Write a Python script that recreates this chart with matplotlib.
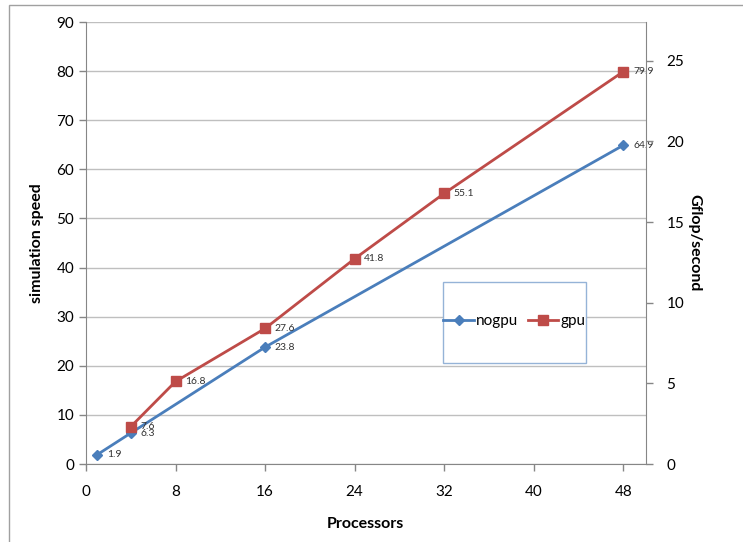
import matplotlib
matplotlib.use("Agg")
import matplotlib.pyplot as plt
from matplotlib.patches import Rectangle

BLUE = "#4A7EBB"
RED = "#BE4B48"
GRID = "#BFBFBF"
SPINE = "#868686"

plt.rcParams.update({
    "font.family": ["Lato", "DejaVu Sans"],
    "font.size": 11,
})

nogpu_x = [1, 4, 16, 48]
nogpu_y = [1.9, 6.3, 23.8, 64.9]
gpu_x = [4, 8, 16, 24, 32, 48]
gpu_y = [7.6, 16.8, 27.6, 41.8, 55.1, 79.9]
x_ticks = [0, 8, 16, 24, 32, 40, 48]
left_ticks = [0, 10, 20, 30, 40, 50, 60, 70, 80, 90]
right_ticks = [0, 5, 10, 15, 20, 25]

fig = plt.figure(figsize=(7.43, 5.42), dpi=100)
ax = fig.add_axes([86 / 743, 1 - 464 / 542, (645.7 - 86) / 743, (464 - 22) / 542])

# outer frame like the pasted chart object
fig.patches.append(Rectangle((9 / 743, -0.05), 1.2, 1 - 5 / 542 + 0.05,
                             transform=fig.transFigure, fill=False,
                             edgecolor="#A0A0A0", linewidth=1.0))

ax.plot(nogpu_x, nogpu_y, color=BLUE, linewidth=2, marker="D", markersize=5,
        label="nogpu", zorder=3)
ax.plot(gpu_x, gpu_y, color=RED, linewidth=2, marker="s", markersize=7,
        label="gpu", zorder=3)

for xs, ys in [(nogpu_x, nogpu_y), (gpu_x, gpu_y)]:
    for xv, yv in zip(xs, ys):
        ax.annotate(f"{yv:.1f}", (xv, yv), xytext=(7, 0), textcoords="offset points",
                    ha="left", va="center", fontsize=7.5, color="#333333")

ax.set_xlim(0, 50)
ax.set_ylim(0, 90)
ax.set_xticks(x_ticks)
ax.set_yticks(left_ticks)
ax.grid(axis="y", color=GRID, linewidth=1)
ax.set_axisbelow(True)
for side in ["top", "right"]:
    ax.spines[side].set_visible(False)
for side in ["left", "bottom"]:
    ax.spines[side].set_color(SPINE)
ax.tick_params(axis="both", color=SPINE, length=5, width=1, labelsize=11)
ax.tick_params(axis="x", pad=10)
ax.set_xlabel("Processors", fontweight="bold", fontsize=11.5, labelpad=13)
ax.set_ylabel("simulation speed", fontweight="bold", fontsize=11.5, labelpad=9)

ax2 = ax.twinx()
ax2.set_ylim(0, 27.4)
ax2.set_yticks(right_ticks)
for side in ["top", "left", "bottom"]:
    ax2.spines[side].set_visible(False)
ax2.spines["right"].set_color(SPINE)
ax2.tick_params(axis="y", color=SPINE, length=5, width=1, labelsize=11, pad=10)
ax2.set_ylabel("Gflop/second", fontweight="bold", fontsize=11.5, rotation=270, labelpad=12)

# legend box (pixel box 443..586 x 282..363)
x0, y0 = 443 / 743, 1 - 363 / 542
w, h = (586 - 443) / 743, (363 - 282) / 542
fig.patches.append(Rectangle((x0, y0), w, h, transform=fig.transFigure,
                             facecolor="white", edgecolor="#95B3D7", linewidth=1, zorder=5))
leg = fig.legend(*ax.get_legend_handles_labels(), loc="center",
                 bbox_to_anchor=(x0 + w / 2, y0 + h / 2 + 1.5 / 542), ncol=2, frameon=False,
                 fontsize=11, handlelength=2.0, handletextpad=0.15, columnspacing=0.6)
leg.set_zorder(6)

fig.savefig("out.png", dpi=100)
